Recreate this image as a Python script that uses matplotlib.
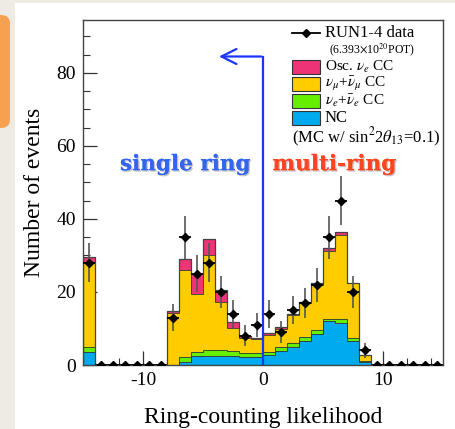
import numpy as np
import matplotlib
matplotlib.use("Agg")
import matplotlib.pyplot as plt
from matplotlib.patches import Rectangle, FancyBboxPatch
import matplotlib.patheffects as pe

plt.rcParams['font.family'] = ['Liberation Serif', 'DejaVu Serif']
plt.rcParams['mathtext.fontset'] = 'stix'

# ---- data ----
edges = np.arange(-15, 16, 1)
nc = [3.6, 0, 0, 0, 0, 0, 0, 0.0, 0.9, 2.5, 2.6, 2.6, 2.5, 2.3, 2.3,
      2.7, 3.9, 5.0, 6.5, 8.4, 12.1, 11.6, 6.5, 0.9, 0, 0, 0, 0, 0, 0]
nue = [1.2, 0, 0, 0, 0, 0, 0, 0.0, 1.2, 1.0, 1.6, 1.5, 1.3, 0.9, 0.9,
       0.9, 0.9, 1.1, 1.2, 1.1, 0.6, 1.0, 0.9, 0.1, 0, 0, 0, 0, 0, 0]
numu = [23.4, 0, 0, 0, 0, 0, 0, 14.3, 23.8, 15.9, 25.8, 13.2, 6.2, 4.1, 4.0,
        4.6, 5.1, 7.5, 9.2, 12.5, 18.6, 23.0, 15.0, 1.7, 0, 0, 0, 0, 0, 0]
osc = [1.3, 0, 0, 0, 0, 0, 0, 0.4, 3.2, 5.6, 4.5, 3.3, 1.8, 0.7, 0.3,
       0.6, 0.4, 0.3, 0.4, 0.4, 0.8, 0.8, 0.1, 0.0, 0, 0, 0, 0, 0, 0]
data = [28, 0, 0, 0, 0, 0, 0, 13, 35, 25, 28, 20, 14, 8, 11,
        14, 9, 15, 17, 22, 35, 45, 20, 4, 0, 0, 0, 0, 0, 0]

components = [nc, nue, numu, osc]
comp_colors = ['#00aaee', '#66ee00', '#ffcc00', '#ee3377']
comp_labels = ['Osc. $\\nu_e$ CC', '$\\nu_\\mu$+$\\bar{\\nu}_\\mu$ CC',
               '$\\nu_e$+$\\bar{\\nu}_e$ CC', 'NC']
leg_colors = ['#ee3377', '#ffcc00', '#66ee00', '#00aaee']

W, H = 455, 429
fig = plt.figure(figsize=(W / 100, H / 100), dpi=100)
fig.patch.set_facecolor('white')

def fx(px):
    return px / W

def fy(py):
    return 1 - py / H

# background decorations
fig.patches.append(Rectangle((0, 0), fx(15), 1, transform=fig.transFigure,
                             facecolor='#eeebe2', edgecolor='none', zorder=0))
fig.patches.append(Rectangle((0, fy(3)), 1, 3 / H, transform=fig.transFigure,
                             facecolor='#eeebe2', edgecolor='none', zorder=0))
fig.patches.append(FancyBboxPatch((fx(-10), fy(128)), fx(20), 113 / H,
                                  boxstyle='round,pad=0,rounding_size=0.02',
                                  transform=fig.transFigure,
                                  facecolor='#f7a050', edgecolor='none', zorder=1))

ax = fig.add_axes([fx(83), fy(365), fx(443) - fx(83), fy(20) - fy(365)])
ax.set_xlim(-15, 15)
ax.set_ylim(0, 94.5)

base = np.zeros(len(nc))
for vals, col in zip(components, comp_colors):
    v = np.array(vals, dtype=float)
    ax.stairs(base + v, edges, baseline=base, fill=True, facecolor=col,
              edgecolor='none', zorder=2)
    ax.stairs(base + v, edges, baseline=None, color='#333333', lw=0.6, zorder=3)
    base = base + v
ax.stairs(base, edges, baseline=0, color='#444444', lw=0.9, zorder=3)

centers = 0.5 * (edges[:-1] + edges[1:])
d = np.array(data, dtype=float)
yerr = np.sqrt(d)
ax.errorbar(centers, d, yerr=yerr, fmt='none', ecolor='#555555', elinewidth=1.2,
            capsize=0, zorder=5)
ax.errorbar(centers, d, xerr=0.5, fmt='D', color='black', ms=4,
            elinewidth=1.3, capsize=0, zorder=6)

# blue divider and arrow
ax.plot([0, 0], [0, 84.5], color='#1a35ff', lw=1.6, zorder=7)
ax.annotate('', xy=(-3.9, 84.5), xytext=(0.08, 84.5),
            arrowprops=dict(arrowstyle='->,head_length=0.9,head_width=0.45',
                            color='#1a35ff', lw=1.6, mutation_scale=12),
            zorder=7)

shadow = [pe.withSimplePatchShadow(offset=(1, -1), shadow_rgbFace='#888888', alpha=0.5),
          pe.Normal()]
ax.text(-6.5, 55.0, 'single ring', color='#3366ee', fontsize=15.5, fontweight='bold',
        family=['DejaVu Serif'], ha='center', va='center', path_effects=shadow, zorder=8)
ax.text(5.93, 55.0, 'multi-ring', color='#ff4422', fontsize=15.5, fontweight='bold',
        family=['DejaVu Serif'], ha='center', va='center', path_effects=shadow, zorder=8)

# axes styling
ax.set_xticks([-10, 0, 10])
ax.set_xticklabels(['-10', '0', '10'])
ax.set_xticks(np.arange(-14, 15, 2), minor=True)
ax.set_yticks([0, 20, 40, 60, 80])
ax.set_yticks(np.arange(0, 95, 5), minor=True)
ax.tick_params(which='both', direction='in', top=False, right=False,
               labelsize=14, color='#333333')
ax.tick_params(which='major', length=10, width=0.9, pad=5)
ax.tick_params(which='minor', length=5, width=0.8)
for s in ax.spines.values():
    s.set_color('#444444')
    s.set_linewidth(1.0)

ax.set_xlabel('Ring-counting likelihood', fontsize=17, labelpad=13)
ax.set_ylabel('Number of events', fontsize=17, labelpad=8)

# legend (drawn manually)
fs = 11
ax_tr = fig.transFigure
fig.lines.append(plt.Line2D([fx(292), fx(320)], [fy(33), fy(33)], color='black',
                            lw=1.3, transform=ax_tr, zorder=10))
fig.lines.append(plt.Line2D([fx(306)], [fy(33)], marker='D', ms=4, color='black',
                            transform=ax_tr, zorder=10))
fig.text(fx(325), fy(33), 'RUN1-4 data', fontsize=fs + 1, va='center', ha='left')
fig.text(fx(329), fy(50), '(6.393$\\times$10$^{20}$POT)', fontsize=8.5, va='center', ha='left')
ys = [67, 84, 101, 118]
for y, c, lab in zip(ys, leg_colors, comp_labels):
    fig.patches.append(Rectangle((fx(292), fy(y + 7)), fx(28), 14 / H, transform=ax_tr,
                                 facecolor=c, edgecolor='#333333', lw=0.8, zorder=10))
    fig.text(fx(325), fy(y), lab, fontsize=fs + 1 if lab == 'NC' else fs,
             va='center', ha='left')
fig.text(fx(292), fy(137), '(MC w/ sin$^2$2$\\theta_{13}$=0.1)', fontsize=fs + 1,
         va='center', ha='left')

fig.savefig('out.png', dpi=100)
